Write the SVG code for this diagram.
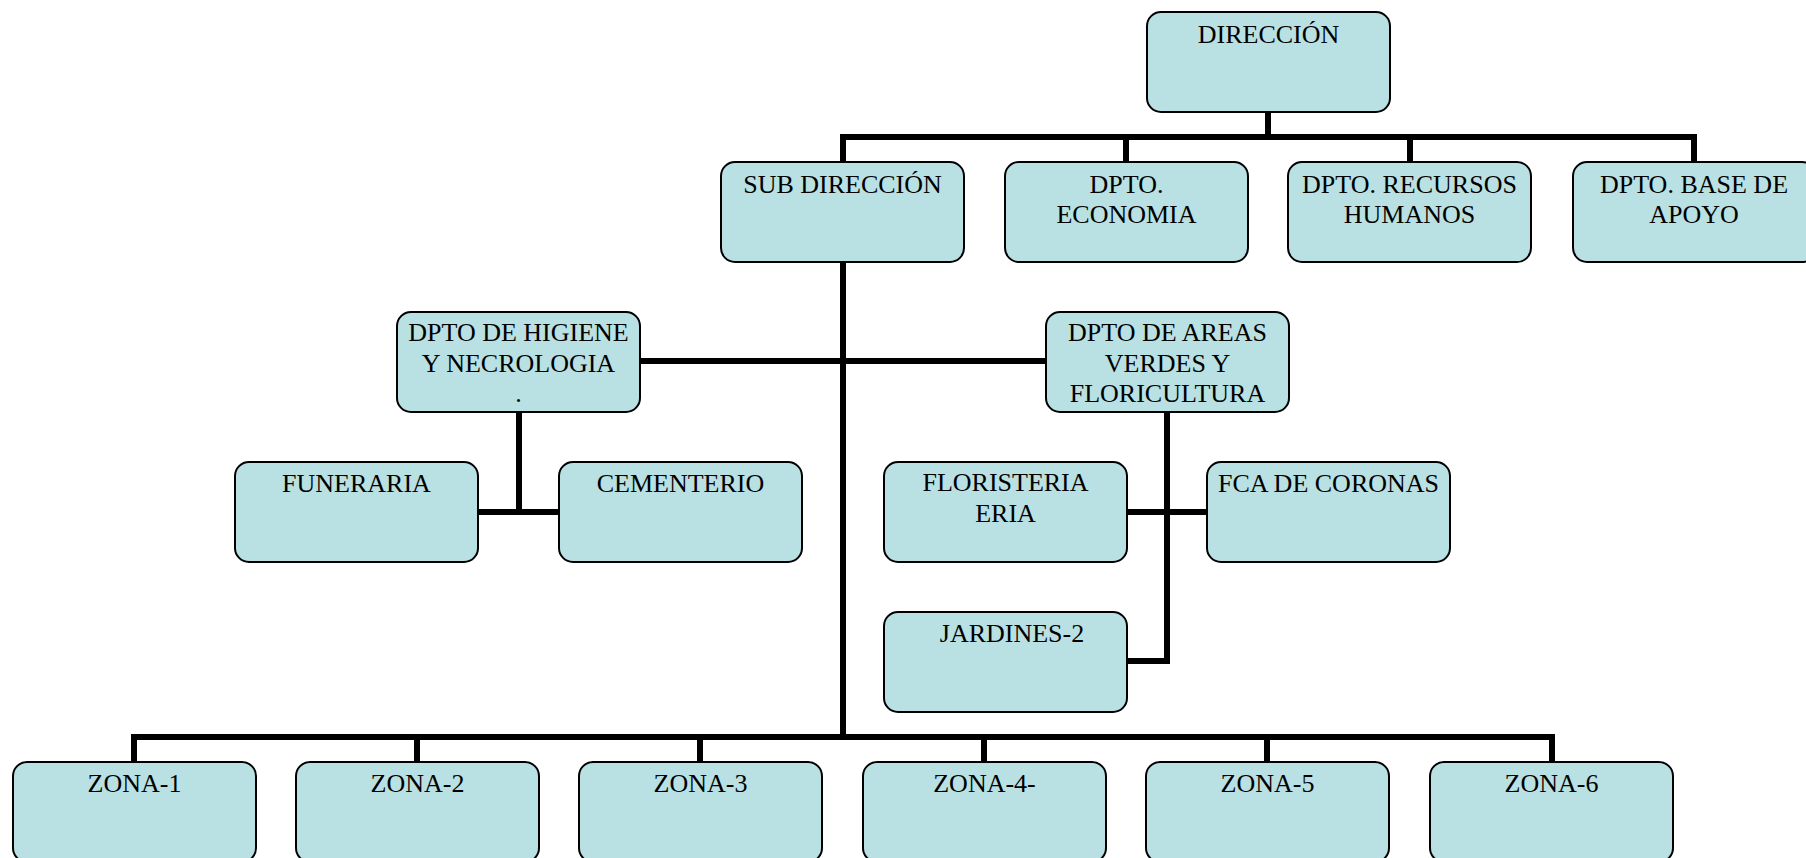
<svg xmlns="http://www.w3.org/2000/svg" width="1806" height="858" viewBox="0 0 1806 858">
  <style>
    .box { fill: #b9e0e3; stroke: #000; stroke-width: 2; }
    .lbl { font-family: "Liberation Serif", "Times New Roman", serif; font-size: 26px; fill: #000; text-anchor: middle; }
    .link { fill: none; stroke: #000; stroke-width: 6; stroke-linecap: square; stroke-linejoin: miter; }
  </style>
  <rect width="1806" height="858" fill="#fff"/>

  <!-- connectors -->
  <g id="connectors">
    <path class="link" d="M1268 112V137M843 137H1694M843 137V162M1126 137V162M1410 137V162M1694 137V162"/>
    <path class="link" d="M843 262V737"/>
    <path class="link" d="M640 361H1046"/>
    <path class="link" d="M519 412V512M478 512H559"/>
    <path class="link" d="M1167 412V661H1127M1127 512H1207"/>
    <path class="link" d="M134 737H1552M134 737V762M417 737V762M700 737V762M984 737V762M1267 737V762M1552 737V762"/>
  </g>

  <!-- top level -->
  <g id="direccion">
    <rect class="box" x="1147" y="12" width="243" height="100" rx="14"/>
    <text class="lbl" x="1268.5" y="43">DIRECCIÓN</text>
  </g>

  <!-- second level -->
  <g id="sub-direccion">
    <rect class="box" x="721" y="162" width="243" height="100" rx="14"/>
    <text class="lbl" x="842.5" y="193">SUB DIRECCIÓN</text>
  </g>
  <g id="dpto-economia">
    <rect class="box" x="1005" y="162" width="243" height="100" rx="14"/>
    <text class="lbl" x="1126.5" y="193">DPTO.</text>
    <text class="lbl" x="1126.5" y="223">ECONOMIA</text>
  </g>
  <g id="dpto-rrhh">
    <rect class="box" x="1288" y="162" width="243" height="100" rx="14"/>
    <text class="lbl" x="1409.5" y="193">DPTO. RECURSOS</text>
    <text class="lbl" x="1409.5" y="223">HUMANOS</text>
  </g>
  <g id="dpto-base">
    <rect class="box" x="1573" y="162" width="243" height="100" rx="14"/>
    <text class="lbl" x="1694" y="193">DPTO. BASE DE</text>
    <text class="lbl" x="1694" y="223">APOYO</text>
  </g>

  <!-- departments under sub direccion -->
  <g id="dpto-higiene">
    <rect class="box" x="397" y="312" width="243" height="100" rx="14"/>
    <text class="lbl" x="518.5" y="341">DPTO DE HIGIENE</text>
    <text class="lbl" x="518.5" y="372">Y NECROLOGIA</text>
    <text class="lbl" x="518.5" y="402">.</text>
  </g>
  <g id="dpto-areas-verdes">
    <rect class="box" x="1046" y="312" width="243" height="100" rx="14"/>
    <text class="lbl" x="1167.5" y="341">DPTO DE AREAS</text>
    <text class="lbl" x="1167.5" y="372">VERDES Y</text>
    <text class="lbl" x="1167.5" y="402">FLORICULTURA</text>
  </g>

  <g id="funeraria">
    <rect class="box" x="235" y="462" width="243" height="100" rx="14"/>
    <text class="lbl" x="356.5" y="492">FUNERARIA</text>
  </g>
  <g id="cementerio">
    <rect class="box" x="559" y="462" width="243" height="100" rx="14"/>
    <text class="lbl" x="680.5" y="492">CEMENTERIO</text>
  </g>
  <g id="floristeria">
    <rect class="box" x="884" y="462" width="243" height="100" rx="14"/>
    <text class="lbl" x="1005.5" y="491">FLORISTERIA</text>
    <text class="lbl" x="1005.5" y="522">ERIA</text>
  </g>
  <g id="fca-coronas">
    <rect class="box" x="1207" y="462" width="243" height="100" rx="14"/>
    <text class="lbl" x="1328.5" y="492">FCA DE CORONAS</text>
  </g>
  <g id="jardines">
    <rect class="box" x="884" y="612" width="243" height="100" rx="14"/>
    <text class="lbl" x="1012" y="642">JARDINES-2</text>
  </g>

  <!-- zones -->
  <g id="zona-1">
    <rect class="box" x="13" y="762" width="243" height="100" rx="14"/>
    <text class="lbl" x="134.5" y="792">ZONA-1</text>
  </g>
  <g id="zona-2">
    <rect class="box" x="296" y="762" width="243" height="100" rx="14"/>
    <text class="lbl" x="417.5" y="792">ZONA-2</text>
  </g>
  <g id="zona-3">
    <rect class="box" x="579" y="762" width="243" height="100" rx="14"/>
    <text class="lbl" x="700.5" y="792">ZONA-3</text>
  </g>
  <g id="zona-4">
    <rect class="box" x="863" y="762" width="243" height="100" rx="14"/>
    <text class="lbl" x="984.5" y="792">ZONA-4-</text>
  </g>
  <g id="zona-5">
    <rect class="box" x="1146" y="762" width="243" height="100" rx="14"/>
    <text class="lbl" x="1267.5" y="792">ZONA-5</text>
  </g>
  <g id="zona-6">
    <rect class="box" x="1430" y="762" width="243" height="100" rx="14"/>
    <text class="lbl" x="1551.5" y="792">ZONA-6</text>
  </g>
</svg>
